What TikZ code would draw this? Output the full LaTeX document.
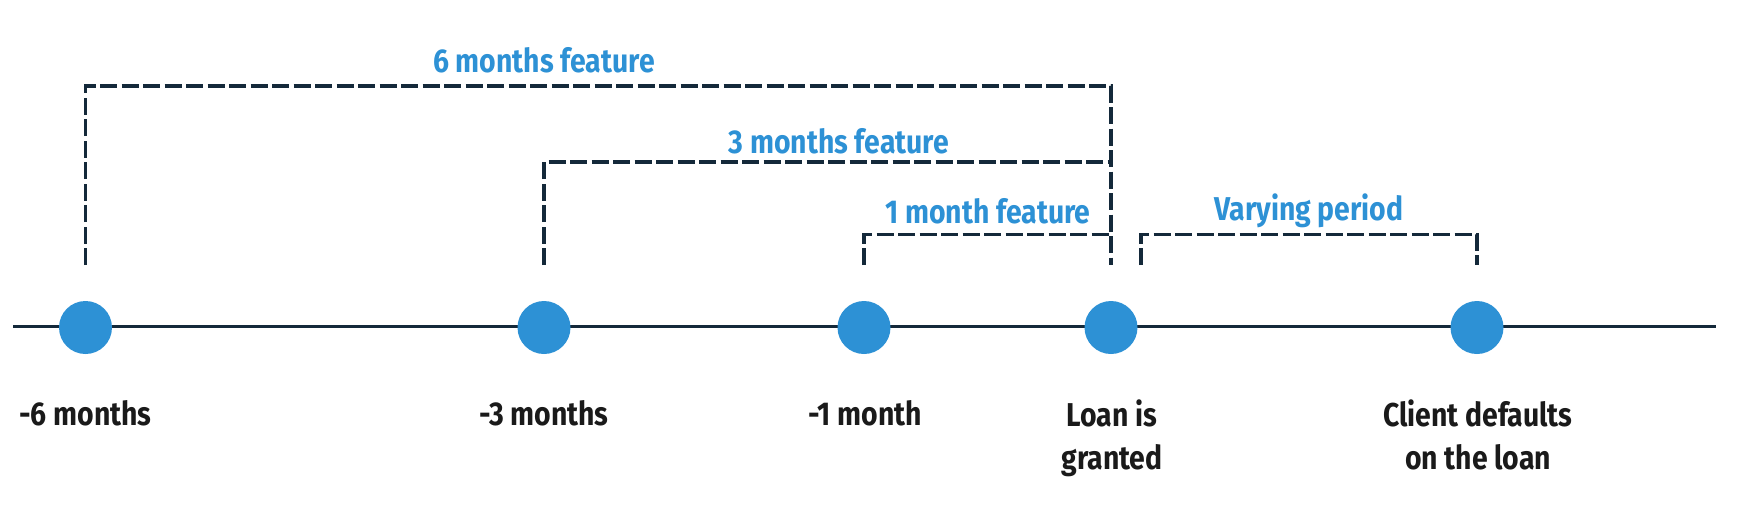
\documentclass[tikz,border=0pt]{standalone}
\usepackage{fontspec}
\setmainfont{Fira Sans}[FakeStretch=0.86]
\usetikzlibrary{calc}
\definecolor{dotblue}{HTML}{2D91D5}
\definecolor{navy}{HTML}{14293A}
\definecolor{txt}{HTML}{1A1A1A}
\tikzset{
  axis/.style={draw=navy, line width=2.8pt},
  dot/.style={circle, fill=dotblue, minimum size=53pt, inner sep=0pt},
  dashline/.style={draw=navy, line width=3.1pt, dash pattern=on 17pt off 4.5pt},
  lab/.style={text=dotblue, font=\fontsize{33}{38}\selectfont\bfseries, inner sep=0pt},
  tlab/.style={text=txt, font=\fontsize{33}{43}\selectfont\bfseries, inner sep=0pt, align=center, anchor=north}
}
\begin{document}
\begin{tikzpicture}[x=1pt,y=-1pt]
\useasboundingbox (0,0) rectangle (1741,512);
\coordinate (la) at (13,326.5);
\coordinate (lb) at (1716,326.5);
\draw[axis] (la) -- (lb);
\node[dot] (d6) at (85.5,327.5) {};
\node[dot] (d3) at (544,327.5) {};
\node[dot] (d1) at (864,327.5) {};
\node[dot] (d0) at (1111,327.5) {};
\node[dot] (dd) at (1477,327.5) {};
\coordinate (legb) at (0,265);
\coordinate (top6) at (0,86);
\coordinate (top3) at (0,162);
\coordinate (top1) at (0,234.5);
\coordinate (vl) at (1141,265);
% brackets
\draw[dashline] (d6 |- legb) |- (d0 |- top6) -- (d0 |- legb);
\draw[dashline] (d3 |- legb) |- (d0 |- top3);
\draw[dashline] (d1 |- legb) |- (d0 |- top1);
\draw[dashline] (vl) |- (dd |- top1) -- (dd |- legb);
% bracket labels
\node[lab] (l6) at (544,60) {6 months feature};
\node[lab] (l3) at (839,141) {3 months feature};
\node[lab] (l1) at (988,211) {1 month feature};
\node[lab] (lv) at (1309,211) {Varying period};
% timeline labels
\node[tlab] (t6) at (85.5,400) {-6 months};
\node[tlab] (t3) at (544,400) {-3 months};
\node[tlab] (t1) at (865,400) {-1 month};
\node[tlab] (t0) at (1112,400) {Loan is\\granted};
\node[tlab] (tdd) at (1478,400) {Client defaults\\on the loan};
\end{tikzpicture}
\end{document}
